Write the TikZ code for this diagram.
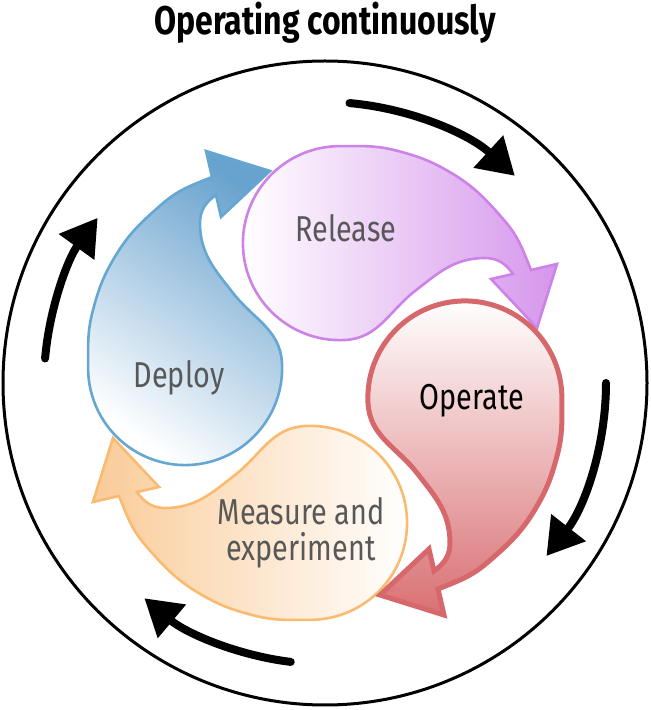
\documentclass[tikz,border=0pt]{standalone}
\usepackage{fontspec}
\setmainfont{Fira Sans}[FakeStretch=0.8]
\usetikzlibrary{arrows.meta,calc}
\definecolor{relline}{RGB}{205,130,232}
\definecolor{relfill}{RGB}{214,150,236}
\definecolor{opline}{RGB}{214,104,108}
\definecolor{opfill}{RGB}{217,112,115}
\definecolor{measline}{RGB}{250,187,112}
\definecolor{measfill}{RGB}{250,203,152}
\definecolor{depline}{RGB}{102,166,210}
\definecolor{depfill}{RGB}{104,162,206}
\definecolor{lblgray}{RGB}{88,88,88}
\newcommand{\droppath}[1]{\path[#1] (188,109) to[out=125,in=0] (160,125)
to[out=180,in=38] (90,92) to[out=218,in=3] (20,43)
arc[start angle=-87,end angle=-270,radius=97]
to[out=0,in=165] (73,232) to[out=-15,in=150] (123,212)
to[out=-30,in=131] (179,163) to[out=-49,in=112] (206,113)
-- (232,119) -- (212,55) -- (166,104) -- cycle;}

\begin{document}
\begin{tikzpicture}
[x=1pt,y=1pt,
cycarrow/.style={line width=8pt,line cap=round,-{Triangle[length=36pt,width=42pt]}},
dropline/.style={line width=2.6pt},
relshape/.style={dropline,draw=relline,left color=white,right color=relfill},
opshape/.style={line width=5pt,draw=opline,top color=white,bottom color=opfill},
measshape/.style={dropline,draw=measline,left color=measfill,right color=white},
depshape/.style={dropline,draw=depline,top color=depfill,bottom color=white,shading angle=-35},
lbl/.style={font=\fontsize{36}{36}\selectfont,text=lblgray,align=center}]
\useasboundingbox (0,0) rectangle (651,710);
%%
% frame
%%
\coordinate (c) at (325,327);
\draw[line width=3pt] (c) circle[radius=322pt];
\node[anchor=base,font=\fontsize{40}{40}\selectfont\bfseries] (title) at (325,675) {Operating continuously};
%%
% cycle arrows
%%
\draw[cycarrow] ([shift={(85:281pt)}]c) arc[start angle=85,end angle=47.5,radius=281pt];
\draw[cycarrow] ([shift={(0:281pt)}]c) arc[start angle=0,end angle=-38,radius=281pt];
\draw[cycarrow] ([shift={(-97:281pt)}]c) arc[start angle=-97,end angle=-130,radius=281pt];
\draw[cycarrow] ([shift={(175:281pt)}]c) arc[start angle=175,end angle=144,radius=281pt];
%%
% drops
%%
\droppath{shift={(c)},rotate=90,depshape}
\droppath{shift={(c)},relshape}
\droppath{shift={(c)},rotate=180,measshape}
\droppath{shift={(c)},rotate=-90,opshape}
%%
% labels
%%
\node[lbl,anchor=base] (rel) at (346,468) {Release};
\node[lbl,anchor=base,text=black] (op) at (472,300) {Operate};
\node[lbl] (meas) at (301,177) {Measure and\\experiment};
\node[lbl,anchor=base] (dep) at (179,322) {Deploy};
\end{tikzpicture}
\end{document}
